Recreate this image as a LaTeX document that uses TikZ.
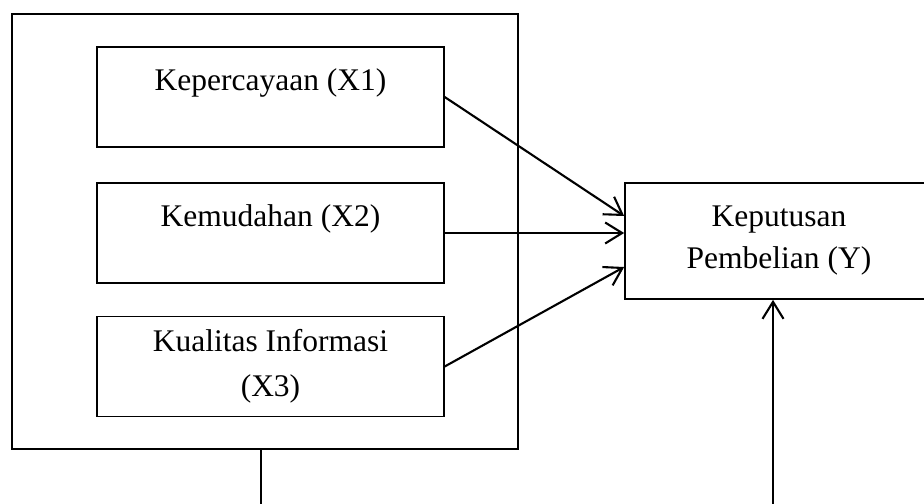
\documentclass[tikz,border=0pt]{standalone}
\usepackage{fontspec}
\setmainfont{Liberation Serif}
\usetikzlibrary{arrows.meta}
\tikzset{
  varbox/.style={draw,line width=0.7pt,minimum width=173.5pt,minimum height=50pt,inner sep=0pt,
    align=center,font=\fontsize{15.75}{22.5}\selectfont},
  topline/.style={text height=21.5pt,text depth=28.5pt},
  link/.style={line width=1.05pt,-{Straight Barb[length=8.5pt,width=10.5pt,line width=1.05pt]}}
}
\begin{document}
\begin{tikzpicture}[x=0.5pt,y=-0.5pt]
  \useasboundingbox (0,0) rectangle (924,503);
  \begin{scope}
    \clip (0,0) rectangle (924,503);
    \node[draw,line width=0.9pt,minimum width=253pt,minimum height=217.5pt] (group) at (265,231.5) {};
    \node[varbox,topline] (trust) at (270.5,97) {Kepercayaan (X1)};
    \node[varbox,topline] (ease) at (270.5,233) {Kemudahan (X2)};
    \node[varbox] (info) at (270.5,366.5) {Kualitas Informasi\\(X3)};
    \node[draw,line width=0.85pt,minimum width=154pt,minimum height=58pt,inner sep=0pt,align=center,
      font=\fontsize{15.75}{21}\selectfont] (decision) at (779,241) {Keputusan\\Pembelian (Y)};
    \coordinate (gout) at (261,520);
    \coordinate (din) at (773,520);
    \draw[link] (trust.east) -- ([yshift=12.5pt]decision.west);
    \draw[link] (ease.east) -- ([yshift=4pt]decision.west);
    \draw[link] (info.east) -- ([yshift=-13pt]decision.west);
    \draw[line width=0.8pt] (gout |- group.south) -- (gout);
    \draw[link] (din) -- (din |- decision.south);
  \end{scope}
\end{tikzpicture}
\end{document}
